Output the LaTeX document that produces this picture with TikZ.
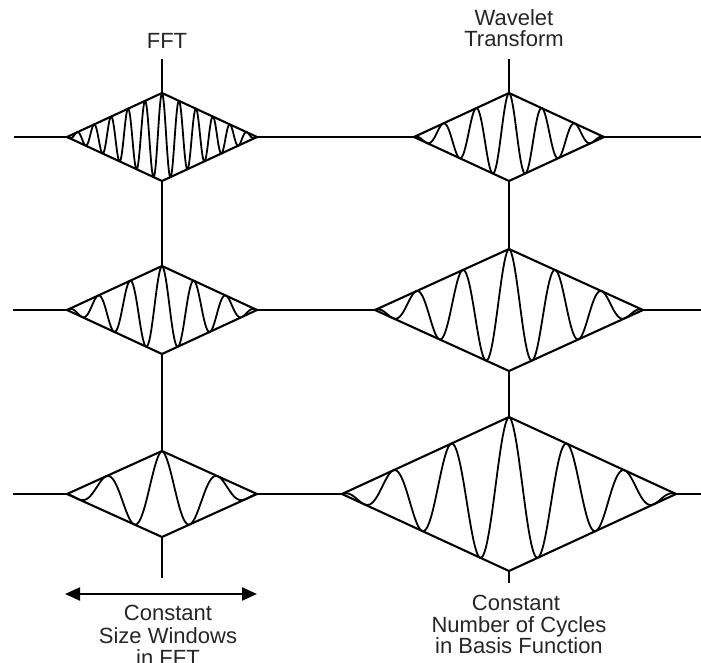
\documentclass[tikz,border=0pt]{standalone}
\usepackage{fontspec}
\setmainfont{Liberation Sans}
\usetikzlibrary{arrows.meta}
\newcommand\wavediamond[6]{%
  \coordinate (#1L) at ({#2-#4},#3);
  \coordinate (#1T) at (#2,{#3-#5});
  \coordinate (#1R) at ({#2+#4},#3);
  \coordinate (#1B) at (#2,{#3+#5});
  \draw[edge] (#1L) -- (#1T) -- (#1R) -- (#1B) -- cycle;
  \draw[wave] plot[domain=-#4:#4, samples=600] ({#2+\x},{#3-#5*(1-abs(\x)/#4)*cos(\x/#6*360)});
}
\begin{document}
\begin{tikzpicture}[x=1pt,y=-1pt,
  edge/.style={line width=2.1pt, line join=round},
  wave/.style={line width=1.8pt, line join=round},
  lbl/.style={font=\fontsize{22}{23}\selectfont, text=black!85, inner sep=0pt, anchor=base}]
\clip (0,0) rectangle (701,663);
\fill[white] (0,0) rectangle (701,663);
% left column (FFT)
\wavediamond{A1}{162}{137}{95}{44}{17}
\wavediamond{A2}{162}{310}{95}{44}{32}
\wavediamond{A3}{162}{494}{95}{43}{56}
% right column (wavelet)
\wavediamond{B1}{509}{137}{95}{44}{33}
\wavediamond{B2}{509}{310}{134}{61}{46.5}
\wavediamond{B3}{509}{494}{167}{77}{58}
% horizontal lines
\coordinate (h1l) at (14,137); \coordinate (h1r) at (701,137);
\coordinate (h2l) at (13,310); \coordinate (h2r) at (701,310);
\coordinate (h3l) at (13,494); \coordinate (h3r) at (701,494);
\draw[edge] (h1l) -- (A1L) (A1R) -- (B1L) (B1R) -- (h1r);
\draw[edge] (h2l) -- (A2L) (A2R) -- (B2L) (B2R) -- (h2r);
\draw[edge] (h3l) -- (A3L) (A3R) -- (B3L) (B3R) -- (h3r);
% vertical lines
\coordinate (vat) at (162,59); \coordinate (vab) at (162,578);
\coordinate (vbt) at (509,59); \coordinate (vbb) at (509,583);
\draw[edge] (vat) -- (A1T) (A1B) -- (A2T) (A2B) -- (A3T) (A3B) -- (vab);
\draw[edge] (vbt) -- (B1T) (B1B) -- (B2T) (B2B) -- (B3T) (B3B) -- (vbb);
% arrow
\coordinate (arl) at (65,594); \coordinate (arr) at (257,594);
\draw[line width=2.3pt, {Triangle[length=15pt,width=13pt]}-{Triangle[length=15pt,width=13pt]}] (arl) -- (arr);
% labels
\node[lbl] (fft) at (167,49) {FFT};
\node[lbl] (wav1) at (514,26) {Wavelet};
\node[lbl] (wav2) at (514,47) {Transform};
\node[lbl] (c1) at (168,620) {Constant};
\node[lbl] (c2) at (168,643) {Size Windows};
\node[lbl] (c3) at (168,665) {in FFT};
\node[lbl] (d1) at (516,610) {Constant};
\node[lbl] (d2) at (519,632) {Number of Cycles};
\node[lbl] (d3) at (519,653) {in Basis Function};
\end{tikzpicture}
\end{document}
